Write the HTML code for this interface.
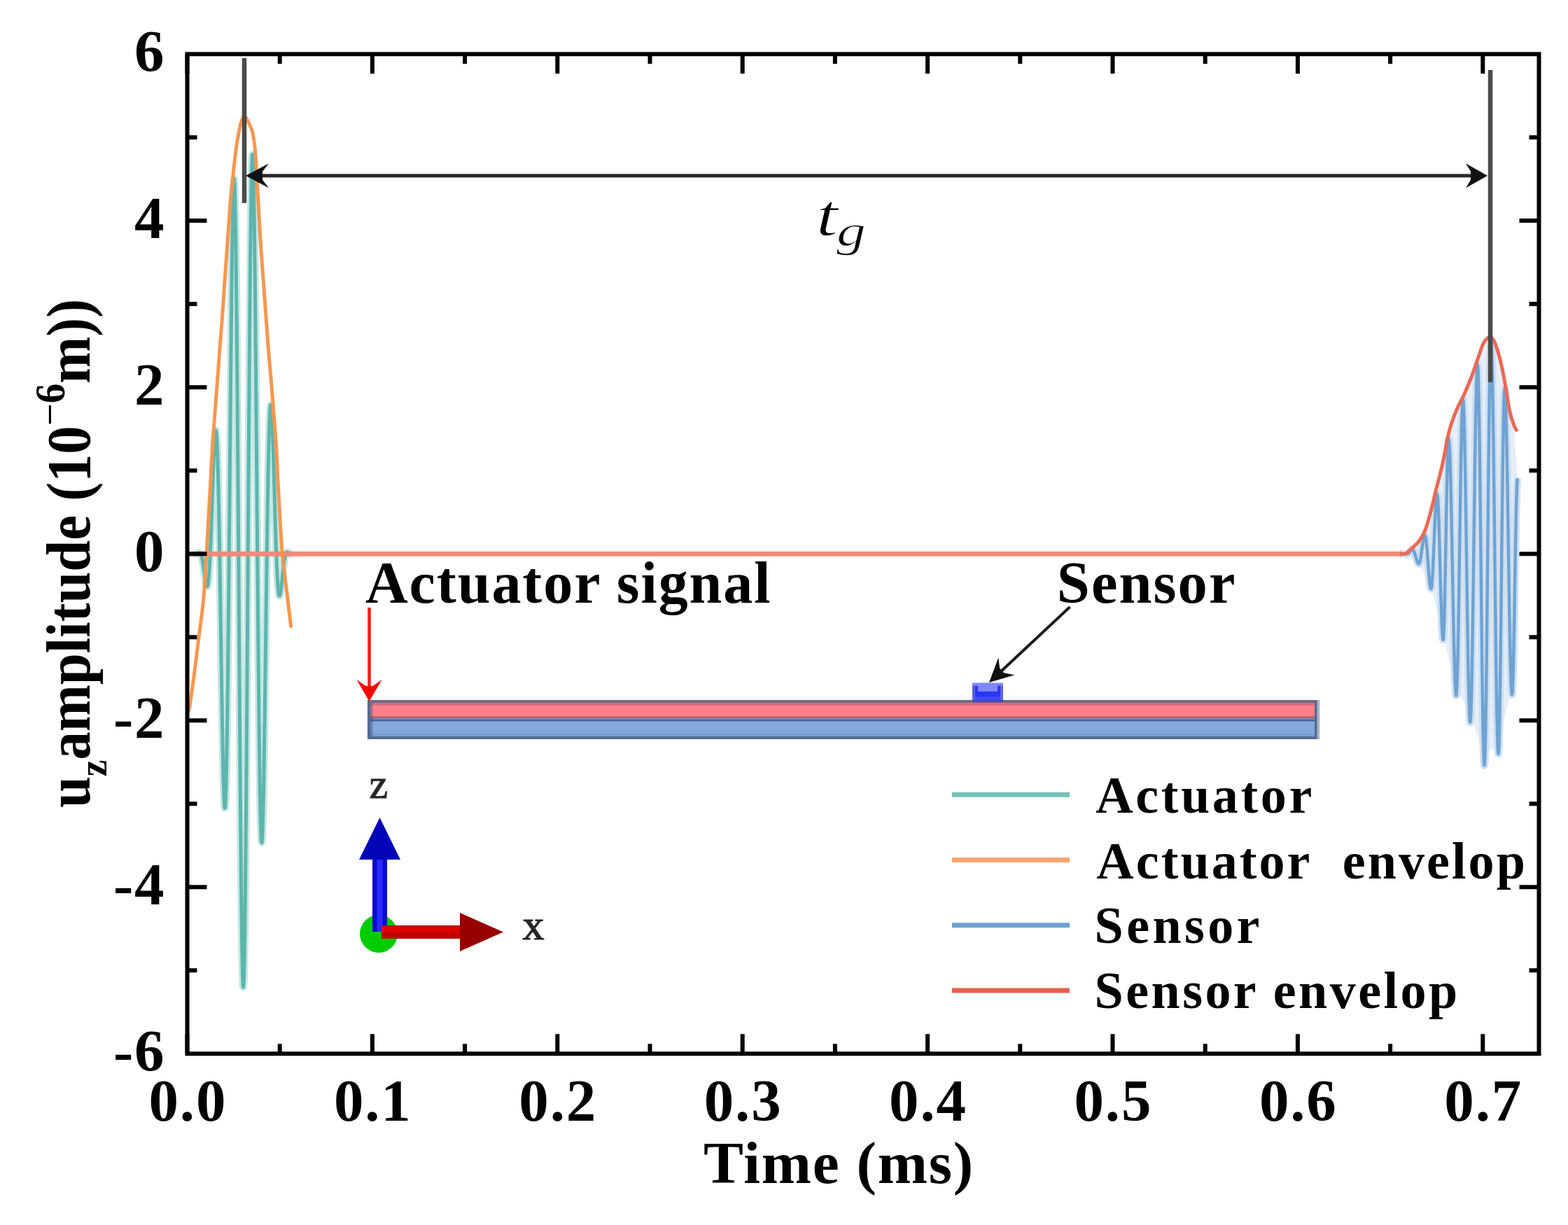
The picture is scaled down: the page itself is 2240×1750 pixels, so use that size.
<!DOCTYPE html>
<html><head><meta charset="utf-8"><title>Actuator and sensor signals</title>
<style>html,body{margin:0;padding:0;background:#fff;width:2240px;height:1750px;overflow:hidden}svg{display:block;filter:blur(0.7px)}</style>
</head><body>
<svg width="2240" height="1750" viewBox="0 0 2240 1750">
<rect width="2240" height="1750" fill="#fff"/>
<path d="M2018.1,784.2 L2026.6,775.8 L2035,761.7 L2040.6,744.8 L2046.3,723.7 L2051.9,699.8 L2057.5,678.7 L2063.1,653.4 L2068.8,623.9 L2074.4,604.2 L2082.8,583.1 L2091.3,566.2 L2102.7,539 L2111.1,514.8 L2118.5,493.7 L2124,486 L2129,483.1 L2133,487 L2136.4,493.7 L2142.8,514.8 L2147.5,535.9 L2152.2,562.2 L2156.5,588.6 L2162.8,609.7 L2168,684.2 L2160,982.35 L2140.5,1062.62 L2120.5,1078.45 L2100.2,1019.66 L2080.3,983.48 L2061.6,907.74 L2044.4,838.78 L2026.9,804.87 L2015,791.3 Z" fill="#e6eff8"/>
<path d="M2000,791.3 L2010.5,791.24 L2011,791.07 L2011.5,790.8 L2012,790.43 L2012.5,789.98 L2013,789.46 L2013.5,788.91 L2014,788.32 L2014.5,787.74 L2015,787.19 L2015.5,786.67 L2016,786.22 L2016.5,785.85 L2017,785.58 L2017.5,785.41 L2018,785.35 L2018.52,785.52 L2019.05,786.03 L2019.57,786.87 L2020.09,787.99 L2020.62,789.37 L2021.14,790.96 L2021.66,792.7 L2022.19,794.53 L2022.71,796.4 L2023.24,798.23 L2023.76,799.97 L2024.28,801.56 L2024.81,802.94 L2025.33,804.06 L2025.85,804.9 L2026.38,805.41 L2026.9,805.58 L2027.41,805.24 L2027.92,804.21 L2028.44,802.55 L2028.95,800.3 L2029.46,797.54 L2029.97,794.37 L2030.48,790.89 L2030.99,787.22 L2031.51,783.48 L2032.02,779.81 L2032.53,776.33 L2033.04,773.16 L2033.55,770.4 L2034.06,768.15 L2034.58,766.49 L2035.09,765.46 L2035.6,765.12 L2036.12,765.77 L2036.64,767.69 L2037.15,770.82 L2037.67,775.06 L2038.19,780.25 L2038.71,786.23 L2039.22,792.78 L2039.74,799.69 L2040.26,806.71 L2040.78,813.62 L2041.29,820.17 L2041.81,826.15 L2042.33,831.34 L2042.85,835.58 L2043.36,838.71 L2043.88,840.63 L2044.4,841.28 L2044.91,840.13 L2045.41,836.7 L2045.92,831.12 L2046.42,823.58 L2046.93,814.33 L2047.44,803.68 L2047.94,792.01 L2048.45,779.71 L2048.95,767.19 L2049.46,754.89 L2049.96,743.22 L2050.47,732.57 L2050.98,723.32 L2051.48,715.78 L2051.99,710.2 L2052.49,706.77 L2053,705.62 L2053.51,707.39 L2054.01,712.65 L2054.52,721.22 L2055.02,732.8 L2055.53,747 L2056.04,763.33 L2056.54,781.25 L2057.05,800.14 L2057.55,819.35 L2058.06,838.24 L2058.56,856.16 L2059.07,872.49 L2059.58,886.69 L2060.08,898.27 L2060.59,906.84 L2061.09,912.1 L2061.6,913.87 L2062.13,910.74 L2062.65,901.47 L2063.18,886.48 L2063.71,866.42 L2064.23,842.17 L2064.76,814.79 L2065.29,785.46 L2065.81,755.49 L2066.34,726.16 L2066.87,698.78 L2067.39,674.53 L2067.92,654.47 L2068.45,639.48 L2068.97,630.21 L2069.5,627.08 L2070.01,629.13 L2070.53,635.22 L2071.04,645.23 L2071.56,658.92 L2072.07,676 L2072.59,696.08 L2073.1,718.71 L2073.61,743.39 L2074.13,769.56 L2074.64,796.64 L2075.16,824.04 L2075.67,851.12 L2076.19,877.29 L2076.7,901.97 L2077.21,924.6 L2077.73,944.68 L2078.24,961.76 L2078.76,975.45 L2079.27,985.46 L2079.79,991.55 L2080.3,993.6 L2080.81,990.72 L2081.32,982.16 L2081.83,968.14 L2082.34,949.06 L2082.85,925.43 L2083.36,897.9 L2083.87,867.22 L2084.38,834.23 L2084.89,799.82 L2085.41,764.93 L2085.92,730.52 L2086.43,697.53 L2086.94,666.85 L2087.45,639.32 L2087.96,615.69 L2088.47,596.61 L2088.98,582.59 L2089.49,574.03 L2090,571.15 L2090.51,573.98 L2091.02,582.42 L2091.53,596.25 L2092.04,615.13 L2092.55,638.59 L2093.06,666.07 L2093.57,696.88 L2094.08,730.26 L2094.59,765.39 L2095.1,801.41 L2095.61,837.44 L2096.12,872.57 L2096.63,905.95 L2097.14,936.76 L2097.65,964.24 L2098.16,987.7 L2098.67,1006.58 L2099.18,1020.41 L2099.69,1028.85 L2100.2,1031.68 L2100.7,1028.83 L2101.21,1020.34 L2101.71,1006.4 L2102.22,987.33 L2102.72,963.54 L2103.23,935.57 L2103.73,904.05 L2104.24,869.68 L2104.74,833.22 L2105.25,795.5 L2105.75,757.35 L2106.26,719.63 L2106.76,683.17 L2107.27,648.8 L2107.77,617.28 L2108.28,589.31 L2108.78,565.52 L2109.29,546.45 L2109.79,532.51 L2110.3,524.02 L2110.8,521.17 L2111.31,525.07 L2111.82,536.68 L2112.33,555.66 L2112.84,581.52 L2113.35,613.53 L2113.86,650.83 L2114.37,692.4 L2114.88,737.11 L2115.39,783.73 L2115.91,831 L2116.42,877.62 L2116.93,922.33 L2117.44,963.9 L2117.95,1001.2 L2118.46,1033.21 L2118.97,1059.07 L2119.48,1078.05 L2119.99,1089.66 L2120.5,1093.56 L2121,1089.43 L2121.5,1077.15 L2122,1057.06 L2122.5,1029.7 L2123,995.82 L2123.5,956.35 L2124,912.36 L2124.5,865.05 L2125,815.71 L2125.5,765.7 L2126,716.36 L2126.5,669.05 L2127,625.06 L2127.5,585.59 L2128,551.71 L2128.5,524.35 L2129,504.26 L2129.5,491.98 L2130,487.85 L2130.5,491.14 L2131,500.93 L2131.5,517.02 L2132,539.03 L2132.5,566.47 L2133,598.74 L2133.5,635.11 L2134,674.77 L2134.5,716.84 L2135,760.37 L2135.5,804.38 L2136,847.91 L2136.5,889.98 L2137,929.64 L2137.5,966.01 L2138,998.28 L2138.5,1025.72 L2139,1047.73 L2139.5,1063.82 L2140,1073.61 L2140.5,1076.9 L2141,1072.94 L2141.5,1061.18 L2142,1041.98 L2142.5,1015.93 L2143,983.81 L2143.5,946.6 L2144,905.42 L2144.5,861.54 L2145,816.29 L2145.5,771.04 L2146,727.16 L2146.5,685.99 L2147,648.77 L2147.5,616.65 L2148,590.6 L2148.5,571.4 L2149,559.64 L2149.5,555.68 L2150,558.12 L2150.5,565.38 L2151,577.3 L2151.5,593.62 L2152,613.97 L2152.5,637.9 L2153,664.86 L2153.5,694.27 L2154,725.45 L2154.5,757.73 L2155,790.36 L2155.5,822.64 L2156,853.82 L2156.5,883.23 L2157,910.19 L2157.5,934.12 L2158,954.47 L2158.5,970.79 L2159,982.71 L2159.5,989.97 L2160,992.41 L2160.5,989.44 L2161,980.63 L2161.5,966.34 L2162,947.1 L2162.5,923.66 L2163,896.91 L2163.5,867.89 L2164,837.71 L2164.5,807.53 L2165,778.51 L2165.5,751.76 L2166,728.32 L2166.5,709.08 L2167,694.79 L2167.5,685.98 L2168,683.01" fill="none" stroke="#cfe0f1" stroke-width="11" stroke-linejoin="round"/>
<path d="M276.5,791.3 L277,791.3 L277.5,791.3 L278,791.3 L278.5,791.3 L279,791.3 L279.5,791.3 L280,791.28 L280.5,791.21 L281,791.08 L281.5,790.89 L282,790.64 L282.5,790.36 L283,790.07 L283.5,789.8 L284,789.59 L284.5,789.48 L285,789.5 L285.5,789.71 L286,790.14 L286.5,790.84 L287,791.84 L287.5,793.17 L288,794.84 L288.5,796.88 L289,799.27 L289.5,802.01 L290,805.06 L290.5,808.38 L291,811.91 L291.5,815.59 L292,819.32 L292.5,823.02 L293,826.57 L293.5,829.85 L294,832.74 L294.5,835.12 L295,836.85 L295.5,837.81 L296,837.88 L296.5,836.95 L297,834.92 L297.5,831.7 L298,827.24 L298.5,821.5 L299,814.45 L299.5,806.12 L300,796.54 L300.5,785.78 L301,773.96 L301.5,761.19 L302,747.66 L302.5,733.55 L303,719.08 L303.5,704.51 L304,690.08 L304.5,676.1 L305,662.85 L305.5,650.63 L306,639.75 L306.5,630.5 L307,623.16 L307.5,618.02 L308,615.3 L308.5,615.23 L309,617.99 L309.5,623.71 L310,632.5 L310.5,644.38 L311,659.37 L311.5,677.38 L312,698.29 L312.5,721.94 L313,748.08 L313.5,776.41 L314,806.6 L314.5,838.25 L315,870.92 L315.5,904.13 L316,937.37 L316.5,970.11 L317,1001.81 L317.5,1031.91 L318,1059.85 L318.5,1085.1 L319,1107.15 L319.5,1125.5 L320,1139.71 L320.5,1149.4 L321,1154.22 L321.5,1153.92 L322,1148.3 L322.5,1137.25 L323,1120.74 L323.5,1098.82 L324,1071.65 L324.5,1039.47 L325,1002.58 L325.5,961.42 L326,916.45 L326.5,868.26 L327,817.46 L327.5,764.75 L328,710.88 L328.5,656.61 L329,602.75 L329.5,550.13 L330,499.55 L330.5,451.84 L331,407.75 L331.5,368.05 L332,333.42 L332.5,304.49 L333,281.81 L333.5,265.84 L334,256.95 L334.5,255.43 L335,261.42 L335.5,274.97 L336,296.02 L336.5,324.39 L337,359.77 L337.5,401.76 L338,449.84 L338.5,503.39 L339,561.7 L339.5,623.99 L340,689.38 L340.5,756.98 L341,825.81 L341.5,894.88 L342,963.19 L342.5,1029.75 L343,1093.56 L343.5,1153.68 L344,1209.21 L344.5,1259.31 L345,1303.22 L345.5,1340.27 L346,1369.88 L346.5,1391.6 L347,1405.08 L347.5,1410.1 L348,1406.56 L348.5,1394.5 L349,1374.08 L349.5,1345.58 L350,1309.42 L350.5,1266.12 L351,1216.31 L351.5,1160.73 L352,1100.18 L352.5,1035.56 L353,967.81 L353.5,897.92 L354,826.9 L354.5,755.8 L355,685.64 L355.5,617.41 L356,552.11 L356.5,490.63 L357,433.85 L357.5,382.54 L358,337.39 L358.5,298.99 L359,267.82 L359.5,244.25 L360,228.54 L360.5,220.8 L361,221.05 L361.5,229.18 L362,244.95 L362.5,268.01 L363,297.93 L363.5,334.14 L364,376.02 L364.5,422.86 L365,473.89 L365.5,528.28 L366,585.18 L366.5,643.7 L367,702.96 L367.5,762.07 L368,820.18 L368.5,876.45 L369,930.11 L369.5,980.44 L370,1026.78 L370.5,1068.56 L371,1105.28 L371.5,1136.54 L372,1162.03 L372.5,1181.56 L373,1195 L373.5,1202.35 L374,1203.68 L374.5,1199.19 L375,1189.11 L375.5,1173.81 L376,1153.68 L376.5,1129.21 L377,1100.91 L377.5,1069.37 L378,1035.18 L378.5,998.96 L379,961.34 L379.5,922.96 L380,884.43 L380.5,846.35 L381,809.29 L381.5,773.76 L382,740.25 L382.5,709.18 L383,680.91 L383.5,655.76 L384,633.95 L384.5,615.65 L385,600.98 L385.5,589.97 L386,582.58 L386.5,578.75 L387,578.31 L387.5,581.09 L388,586.84 L388.5,595.28 L389,606.11 L389.5,618.99 L390,633.57 L390.5,649.5 L391,666.41 L391.5,683.94 L392,701.75 L392.5,719.52 L393,736.92 L393.5,753.69 L394,769.58 L394.5,784.37 L395,797.89 L395.5,809.99 L396,820.57 L396.5,829.58 L397,836.97 L397.5,842.76 L398,846.99 L398.5,849.73 L399,851.07 L399.5,851.12 L400,850.03 L400.5,847.93 L401,844.99 L401.5,841.37 L402,837.22 L402.5,832.7 L403,827.97 L403.5,823.16 L404,818.4 L404.5,813.81 L405,809.48 L405.5,805.48 L406,801.89 L406.5,798.73 L407,796.03 L407.5,793.8 L408,792.02 L408.5,790.68 L409,789.74 L409.5,789.15 L410,788.86 L410.5,788.83 L411,788.98 L411.5,789.26 L412,789.62 L412.5,790.01 L413,790.39 L413.5,790.73 L414,790.99 L414.5,791.18 L415,791.27 L415.5,791.3 L416,791.3 L416.5,791.3 L417,791.3 L417.5,791.3 L418,791.3 L418.5,791.3" fill="none" stroke="#c6e8e5" stroke-width="11" stroke-linejoin="round"/>
<path d="M2000,791.3 L2010.5,791.24 L2011,791.07 L2011.5,790.8 L2012,790.43 L2012.5,789.98 L2013,789.46 L2013.5,788.91 L2014,788.32 L2014.5,787.74 L2015,787.19 L2015.5,786.67 L2016,786.22 L2016.5,785.85 L2017,785.58 L2017.5,785.41 L2018,785.35 L2018.52,785.52 L2019.05,786.03 L2019.57,786.87 L2020.09,787.99 L2020.62,789.37 L2021.14,790.96 L2021.66,792.7 L2022.19,794.53 L2022.71,796.4 L2023.24,798.23 L2023.76,799.97 L2024.28,801.56 L2024.81,802.94 L2025.33,804.06 L2025.85,804.9 L2026.38,805.41 L2026.9,805.58 L2027.41,805.24 L2027.92,804.21 L2028.44,802.55 L2028.95,800.3 L2029.46,797.54 L2029.97,794.37 L2030.48,790.89 L2030.99,787.22 L2031.51,783.48 L2032.02,779.81 L2032.53,776.33 L2033.04,773.16 L2033.55,770.4 L2034.06,768.15 L2034.58,766.49 L2035.09,765.46 L2035.6,765.12 L2036.12,765.77 L2036.64,767.69 L2037.15,770.82 L2037.67,775.06 L2038.19,780.25 L2038.71,786.23 L2039.22,792.78 L2039.74,799.69 L2040.26,806.71 L2040.78,813.62 L2041.29,820.17 L2041.81,826.15 L2042.33,831.34 L2042.85,835.58 L2043.36,838.71 L2043.88,840.63 L2044.4,841.28 L2044.91,840.13 L2045.41,836.7 L2045.92,831.12 L2046.42,823.58 L2046.93,814.33 L2047.44,803.68 L2047.94,792.01 L2048.45,779.71 L2048.95,767.19 L2049.46,754.89 L2049.96,743.22 L2050.47,732.57 L2050.98,723.32 L2051.48,715.78 L2051.99,710.2 L2052.49,706.77 L2053,705.62 L2053.51,707.39 L2054.01,712.65 L2054.52,721.22 L2055.02,732.8 L2055.53,747 L2056.04,763.33 L2056.54,781.25 L2057.05,800.14 L2057.55,819.35 L2058.06,838.24 L2058.56,856.16 L2059.07,872.49 L2059.58,886.69 L2060.08,898.27 L2060.59,906.84 L2061.09,912.1 L2061.6,913.87 L2062.13,910.74 L2062.65,901.47 L2063.18,886.48 L2063.71,866.42 L2064.23,842.17 L2064.76,814.79 L2065.29,785.46 L2065.81,755.49 L2066.34,726.16 L2066.87,698.78 L2067.39,674.53 L2067.92,654.47 L2068.45,639.48 L2068.97,630.21 L2069.5,627.08 L2070.01,629.13 L2070.53,635.22 L2071.04,645.23 L2071.56,658.92 L2072.07,676 L2072.59,696.08 L2073.1,718.71 L2073.61,743.39 L2074.13,769.56 L2074.64,796.64 L2075.16,824.04 L2075.67,851.12 L2076.19,877.29 L2076.7,901.97 L2077.21,924.6 L2077.73,944.68 L2078.24,961.76 L2078.76,975.45 L2079.27,985.46 L2079.79,991.55 L2080.3,993.6 L2080.81,990.72 L2081.32,982.16 L2081.83,968.14 L2082.34,949.06 L2082.85,925.43 L2083.36,897.9 L2083.87,867.22 L2084.38,834.23 L2084.89,799.82 L2085.41,764.93 L2085.92,730.52 L2086.43,697.53 L2086.94,666.85 L2087.45,639.32 L2087.96,615.69 L2088.47,596.61 L2088.98,582.59 L2089.49,574.03 L2090,571.15 L2090.51,573.98 L2091.02,582.42 L2091.53,596.25 L2092.04,615.13 L2092.55,638.59 L2093.06,666.07 L2093.57,696.88 L2094.08,730.26 L2094.59,765.39 L2095.1,801.41 L2095.61,837.44 L2096.12,872.57 L2096.63,905.95 L2097.14,936.76 L2097.65,964.24 L2098.16,987.7 L2098.67,1006.58 L2099.18,1020.41 L2099.69,1028.85 L2100.2,1031.68 L2100.7,1028.83 L2101.21,1020.34 L2101.71,1006.4 L2102.22,987.33 L2102.72,963.54 L2103.23,935.57 L2103.73,904.05 L2104.24,869.68 L2104.74,833.22 L2105.25,795.5 L2105.75,757.35 L2106.26,719.63 L2106.76,683.17 L2107.27,648.8 L2107.77,617.28 L2108.28,589.31 L2108.78,565.52 L2109.29,546.45 L2109.79,532.51 L2110.3,524.02 L2110.8,521.17 L2111.31,525.07 L2111.82,536.68 L2112.33,555.66 L2112.84,581.52 L2113.35,613.53 L2113.86,650.83 L2114.37,692.4 L2114.88,737.11 L2115.39,783.73 L2115.91,831 L2116.42,877.62 L2116.93,922.33 L2117.44,963.9 L2117.95,1001.2 L2118.46,1033.21 L2118.97,1059.07 L2119.48,1078.05 L2119.99,1089.66 L2120.5,1093.56 L2121,1089.43 L2121.5,1077.15 L2122,1057.06 L2122.5,1029.7 L2123,995.82 L2123.5,956.35 L2124,912.36 L2124.5,865.05 L2125,815.71 L2125.5,765.7 L2126,716.36 L2126.5,669.05 L2127,625.06 L2127.5,585.59 L2128,551.71 L2128.5,524.35 L2129,504.26 L2129.5,491.98 L2130,487.85 L2130.5,491.14 L2131,500.93 L2131.5,517.02 L2132,539.03 L2132.5,566.47 L2133,598.74 L2133.5,635.11 L2134,674.77 L2134.5,716.84 L2135,760.37 L2135.5,804.38 L2136,847.91 L2136.5,889.98 L2137,929.64 L2137.5,966.01 L2138,998.28 L2138.5,1025.72 L2139,1047.73 L2139.5,1063.82 L2140,1073.61 L2140.5,1076.9 L2141,1072.94 L2141.5,1061.18 L2142,1041.98 L2142.5,1015.93 L2143,983.81 L2143.5,946.6 L2144,905.42 L2144.5,861.54 L2145,816.29 L2145.5,771.04 L2146,727.16 L2146.5,685.99 L2147,648.77 L2147.5,616.65 L2148,590.6 L2148.5,571.4 L2149,559.64 L2149.5,555.68 L2150,558.12 L2150.5,565.38 L2151,577.3 L2151.5,593.62 L2152,613.97 L2152.5,637.9 L2153,664.86 L2153.5,694.27 L2154,725.45 L2154.5,757.73 L2155,790.36 L2155.5,822.64 L2156,853.82 L2156.5,883.23 L2157,910.19 L2157.5,934.12 L2158,954.47 L2158.5,970.79 L2159,982.71 L2159.5,989.97 L2160,992.41 L2160.5,989.44 L2161,980.63 L2161.5,966.34 L2162,947.1 L2162.5,923.66 L2163,896.91 L2163.5,867.89 L2164,837.71 L2164.5,807.53 L2165,778.51 L2165.5,751.76 L2166,728.32 L2166.5,709.08 L2167,694.79 L2167.5,685.98 L2168,683.01" fill="none" stroke="#6fa3d3" stroke-width="4.5" stroke-linejoin="round"/>
<path d="M276.5,791.3 L277,791.3 L277.5,791.3 L278,791.3 L278.5,791.3 L279,791.3 L279.5,791.3 L280,791.28 L280.5,791.21 L281,791.08 L281.5,790.89 L282,790.64 L282.5,790.36 L283,790.07 L283.5,789.8 L284,789.59 L284.5,789.48 L285,789.5 L285.5,789.71 L286,790.14 L286.5,790.84 L287,791.84 L287.5,793.17 L288,794.84 L288.5,796.88 L289,799.27 L289.5,802.01 L290,805.06 L290.5,808.38 L291,811.91 L291.5,815.59 L292,819.32 L292.5,823.02 L293,826.57 L293.5,829.85 L294,832.74 L294.5,835.12 L295,836.85 L295.5,837.81 L296,837.88 L296.5,836.95 L297,834.92 L297.5,831.7 L298,827.24 L298.5,821.5 L299,814.45 L299.5,806.12 L300,796.54 L300.5,785.78 L301,773.96 L301.5,761.19 L302,747.66 L302.5,733.55 L303,719.08 L303.5,704.51 L304,690.08 L304.5,676.1 L305,662.85 L305.5,650.63 L306,639.75 L306.5,630.5 L307,623.16 L307.5,618.02 L308,615.3 L308.5,615.23 L309,617.99 L309.5,623.71 L310,632.5 L310.5,644.38 L311,659.37 L311.5,677.38 L312,698.29 L312.5,721.94 L313,748.08 L313.5,776.41 L314,806.6 L314.5,838.25 L315,870.92 L315.5,904.13 L316,937.37 L316.5,970.11 L317,1001.81 L317.5,1031.91 L318,1059.85 L318.5,1085.1 L319,1107.15 L319.5,1125.5 L320,1139.71 L320.5,1149.4 L321,1154.22 L321.5,1153.92 L322,1148.3 L322.5,1137.25 L323,1120.74 L323.5,1098.82 L324,1071.65 L324.5,1039.47 L325,1002.58 L325.5,961.42 L326,916.45 L326.5,868.26 L327,817.46 L327.5,764.75 L328,710.88 L328.5,656.61 L329,602.75 L329.5,550.13 L330,499.55 L330.5,451.84 L331,407.75 L331.5,368.05 L332,333.42 L332.5,304.49 L333,281.81 L333.5,265.84 L334,256.95 L334.5,255.43 L335,261.42 L335.5,274.97 L336,296.02 L336.5,324.39 L337,359.77 L337.5,401.76 L338,449.84 L338.5,503.39 L339,561.7 L339.5,623.99 L340,689.38 L340.5,756.98 L341,825.81 L341.5,894.88 L342,963.19 L342.5,1029.75 L343,1093.56 L343.5,1153.68 L344,1209.21 L344.5,1259.31 L345,1303.22 L345.5,1340.27 L346,1369.88 L346.5,1391.6 L347,1405.08 L347.5,1410.1 L348,1406.56 L348.5,1394.5 L349,1374.08 L349.5,1345.58 L350,1309.42 L350.5,1266.12 L351,1216.31 L351.5,1160.73 L352,1100.18 L352.5,1035.56 L353,967.81 L353.5,897.92 L354,826.9 L354.5,755.8 L355,685.64 L355.5,617.41 L356,552.11 L356.5,490.63 L357,433.85 L357.5,382.54 L358,337.39 L358.5,298.99 L359,267.82 L359.5,244.25 L360,228.54 L360.5,220.8 L361,221.05 L361.5,229.18 L362,244.95 L362.5,268.01 L363,297.93 L363.5,334.14 L364,376.02 L364.5,422.86 L365,473.89 L365.5,528.28 L366,585.18 L366.5,643.7 L367,702.96 L367.5,762.07 L368,820.18 L368.5,876.45 L369,930.11 L369.5,980.44 L370,1026.78 L370.5,1068.56 L371,1105.28 L371.5,1136.54 L372,1162.03 L372.5,1181.56 L373,1195 L373.5,1202.35 L374,1203.68 L374.5,1199.19 L375,1189.11 L375.5,1173.81 L376,1153.68 L376.5,1129.21 L377,1100.91 L377.5,1069.37 L378,1035.18 L378.5,998.96 L379,961.34 L379.5,922.96 L380,884.43 L380.5,846.35 L381,809.29 L381.5,773.76 L382,740.25 L382.5,709.18 L383,680.91 L383.5,655.76 L384,633.95 L384.5,615.65 L385,600.98 L385.5,589.97 L386,582.58 L386.5,578.75 L387,578.31 L387.5,581.09 L388,586.84 L388.5,595.28 L389,606.11 L389.5,618.99 L390,633.57 L390.5,649.5 L391,666.41 L391.5,683.94 L392,701.75 L392.5,719.52 L393,736.92 L393.5,753.69 L394,769.58 L394.5,784.37 L395,797.89 L395.5,809.99 L396,820.57 L396.5,829.58 L397,836.97 L397.5,842.76 L398,846.99 L398.5,849.73 L399,851.07 L399.5,851.12 L400,850.03 L400.5,847.93 L401,844.99 L401.5,841.37 L402,837.22 L402.5,832.7 L403,827.97 L403.5,823.16 L404,818.4 L404.5,813.81 L405,809.48 L405.5,805.48 L406,801.89 L406.5,798.73 L407,796.03 L407.5,793.8 L408,792.02 L408.5,790.68 L409,789.74 L409.5,789.15 L410,788.86 L410.5,788.83 L411,788.98 L411.5,789.26 L412,789.62 L412.5,790.01 L413,790.39 L413.5,790.73 L414,790.99 L414.5,791.18 L415,791.27 L415.5,791.3 L416,791.3 L416.5,791.3 L417,791.3 L417.5,791.3 L418,791.3 L418.5,791.3" fill="none" stroke="#5db5ac" stroke-width="5" stroke-linejoin="round"/>
<path d="M267.5,791.3 H2002" fill="none" stroke="#f08a7a" stroke-width="7"/>
<path d="M2000,791.3C2001.33,791.22 2004.98,792.32 2008,790.8C2011.02,789.28 2015,785.03 2018.1,782.2C2021.2,779.37 2023.78,777.55 2026.6,773.8C2029.42,770.05 2032.67,764.87 2035,759.7C2037.33,754.53 2038.72,749.13 2040.6,742.8C2042.48,736.47 2044.42,729.2 2046.3,721.7C2048.18,714.2 2050.03,705.3 2051.9,697.8C2053.77,690.3 2055.63,684.43 2057.5,676.7C2059.37,668.97 2061.22,660.53 2063.1,651.4C2064.98,642.27 2066.92,630.1 2068.8,621.9C2070.68,613.7 2072.07,609 2074.4,602.2C2076.73,595.4 2079.98,587.43 2082.8,581.1C2085.62,574.77 2087.98,571.55 2091.3,564.2C2094.62,556.85 2099.4,545.57 2102.7,537C2106,528.43 2108.47,520.35 2111.1,512.8C2113.73,505.25 2116.35,496.5 2118.5,491.7C2120.65,486.9 2122.25,485.77 2124,484C2125.75,482.23 2127.5,480.93 2129,481.1C2130.5,481.27 2131.77,483.23 2133,485C2134.23,486.77 2134.77,487.07 2136.4,491.7C2138.03,496.33 2140.95,505.77 2142.8,512.8C2144.65,519.83 2145.93,526 2147.5,533.9C2149.07,541.8 2150.7,551.42 2152.2,560.2C2153.7,568.98 2154.73,578.68 2156.5,586.6C2158.27,594.52 2160.97,602.77 2162.8,607.7C2164.63,612.63 2166.72,614.78 2167.5,616.2" fill="none" stroke="#ea6a55" stroke-width="5" stroke-linejoin="round"/>
<path d="M267.5,1018C268.02,1016.83 269.12,1018.83 270.6,1011C272.08,1003.17 274.23,987.23 276.4,971C278.57,954.77 281.22,932.77 283.6,913.6C285.98,894.43 288.8,876.43 290.7,856C292.6,835.57 293.62,813.67 295,791C296.38,768.33 297.97,738.5 299,720C300.03,701.5 300.47,693.33 301.2,680C301.93,666.67 302.43,655 303.4,640C304.37,625 305.75,606.67 307,590C308.25,573.33 309.77,555 310.9,540C312.03,525 312.78,513.33 313.8,500C314.82,486.67 315.88,475 317,460C318.12,445 319.22,428.33 320.5,410C321.78,391.67 323.28,370 324.7,350C326.12,330 327.62,306.67 329,290C330.38,273.33 331.67,262.5 333,250C334.33,237.5 335.67,225 337,215C338.33,205 339.67,197 341,190C342.33,183 343.67,177.08 345,173C346.33,168.92 347.67,165.83 349,165.5C350.33,165.17 351.67,168.75 353,171C354.33,173.25 355.67,175.83 357,179C358.33,182.17 359.75,184 361,190C362.25,196 363.55,205 364.5,215C365.45,225 365.95,237.5 366.7,250C367.45,262.5 368.03,273.33 369,290C369.97,306.67 371.18,330 372.5,350C373.82,370 375.62,392.5 376.9,410C378.18,427.5 379.1,440 380.2,455C381.3,470 382.37,485.83 383.5,500C384.63,514.17 385.75,525 387,540C388.25,555 389.72,573.33 391,590C392.28,606.67 393.77,625 394.7,640C395.63,655 395.92,666.67 396.6,680C397.28,693.33 397.68,701.5 398.8,720C399.92,738.5 401.55,770.67 403.3,791C405.05,811.33 407.22,824.4 409.3,842C411.38,859.6 414.72,887.5 415.8,896.6" fill="none" stroke="#f7974f" stroke-width="5" stroke-linejoin="round"/>
<path d="M349,83 V290 M2129,100 V546" stroke="#4a4a4a" stroke-width="6.5" fill="none"/>
<path d="M360,251 H2115" stroke="#2a2a2a" stroke-width="5" fill="none"/>
<path d="M351,251 L384,268.5 L375,257 L375,245 L384,233.5 Z" fill="#111"/>
<path d="M2125,251 L2094,233.5 L2101,245 L2101,257 L2094,268.5 Z" fill="#111"/>
<g transform="translate(1166,0) scale(1.31,1)" font-family='"Liberation Serif", "Times New Roman", serif' font-style="italic" fill="#000" stroke="#fff" stroke-width="1"><text x="0" y="335.8" font-size="84">t</text><text x="22.1" y="351.1" font-size="64">g</text></g>
<rect x="527" y="1002" width="1353" height="52" fill="#84a8dc" stroke="#556b90" stroke-width="4"/>
<rect x="529" y="1004" width="1349" height="22" fill="#ff8088"/>
<path d="M527,1002 H1880" stroke="#6f6a88" stroke-width="4"/>
<path d="M529,1025 H1878" stroke="#a46070" stroke-width="3"/><path d="M529,1029 H1878" stroke="#45689a" stroke-width="3"/>
<rect x="529" y="1004" width="1349" height="3.8" fill="#d86c7a"/>
<rect x="529" y="1047.5" width="1349" height="4.5" fill="#78a0d2"/>
<rect x="1881.5" y="1000" width="3.8" height="56" fill="#a9b5c6"/>
<rect x="529" y="1004" width="3.5" height="48" fill="#28406e" fill-opacity="0.35"/>
<rect x="1389.3" y="975.8" width="43.5" height="26" fill="#2c36f0"/>
<rect x="1389.3" y="975.8" width="43.5" height="4" fill="#7d84ff"/>
<rect x="1397" y="975.8" width="28" height="12" fill="#8088ff"/>
<rect x="1389.3" y="979.8" width="3.8" height="22" fill="#5660d8"/>
<rect x="1429" y="979.8" width="3.8" height="22" fill="#6068e0"/>
<rect x="1393" y="995" width="36" height="5" fill="#3848ff"/>
<rect x="1389.3" y="999.5" width="43.5" height="3.7" fill="#4a4ab8"/>
<path d="M527.5,868 V985" stroke="#ff1a1a" stroke-width="4.5"/>
<path d="M527.5,1002 L545.5,971 L532.5,980 L522.5,980 L509.5,971 Z" fill="#ff0000"/>
<path d="M1528.5,867 L1428,961" stroke="#1a1a1a" stroke-width="4"/>
<path d="M1413,975 L1449.46,964.25 L1434.35,961.24 L1428.22,954.66 L1426.27,939.38 Z" fill="#111"/>
<g font-family='"Liberation Serif", "Times New Roman", serif' font-weight="bold" fill="#000">
<text x="522.0" y="861.2" font-size="84.0" textLength="578.5" lengthAdjust="spacing">Actuator signal</text>
<text x="1509.8" y="860.8" font-size="84.5" textLength="254.6" lengthAdjust="spacing">Sensor</text>
</g>
<circle cx="541" cy="1334" r="27" fill="#00cc00"/>
<path d="M542.5,1331 V1226" stroke="#0a0ad0" stroke-width="21"/>
<path d="M542.5,1331 V1226" stroke="#2a2aff" stroke-width="8"/>
<path d="M513,1228 L542.5,1168 L572,1228 Z" fill="#0505b8"/>
<path d="M545,1331.5 H660" stroke="#c00000" stroke-width="19"/>
<path d="M545,1328 H660" stroke="#e00000" stroke-width="7"/>
<path d="M657,1304 L719,1331.5 L657,1359 Z" fill="#980000"/>
<g font-family='"Liberation Serif", "Times New Roman", serif' font-weight="bold" fill="#262626">
<text x="527.5" y="1139.5" font-size="60" font-weight="normal" stroke="#262626" stroke-width="0.9">z</text>
<text x="746.5" y="1342" font-size="62" font-weight="normal" stroke="#262626" stroke-width="1.2">x</text>
</g>
<path d="M1360,1135.3 H1528" stroke="#72c2b6" stroke-width="7"/>
<text x="1565.2" y="1161.3" font-size="74.0" textLength="309.1" lengthAdjust="spacing" font-family='"Liberation Serif", "Times New Roman", serif' font-weight="bold" fill="#000">Actuator</text>
<path d="M1360,1228.5 H1528" stroke="#fba36e" stroke-width="7"/>
<text x="1566.2" y="1254.5" font-size="74.0" textLength="612.6" lengthAdjust="spacing" font-family='"Liberation Serif", "Times New Roman", serif' font-weight="bold" fill="#000">Actuator  envelop</text>
<path d="M1360,1321.7 H1528" stroke="#6ca2d2" stroke-width="7"/>
<text x="1563.6" y="1347.0" font-size="74.0" textLength="235.8" lengthAdjust="spacing" font-family='"Liberation Serif", "Times New Roman", serif' font-weight="bold" fill="#000">Sensor</text>
<path d="M1360,1414.9 H1528" stroke="#e4604c" stroke-width="7"/>
<text x="1563.6" y="1439.5" font-size="74.0" textLength="518.5" lengthAdjust="spacing" font-family='"Liberation Serif", "Times New Roman", serif' font-weight="bold" fill="#000">Sensor envelop</text>
<rect x="267.5" y="77.3" width="1931" height="1428" fill="none" stroke="#000" stroke-width="6"/>
<path d="M267.5,1505.3 V1477.3 M267.5,77.3 V105.3 M399.7,1505.3 V1491.3 M399.7,77.3 V91.3 M531.9,1505.3 V1477.3 M531.9,77.3 V105.3 M664.1,1505.3 V1491.3 M664.1,77.3 V91.3 M796.3,1505.3 V1477.3 M796.3,77.3 V105.3 M928.5,1505.3 V1491.3 M928.5,77.3 V91.3 M1060.7,1505.3 V1477.3 M1060.7,77.3 V105.3 M1192.9,1505.3 V1491.3 M1192.9,77.3 V91.3 M1325.1,1505.3 V1477.3 M1325.1,77.3 V105.3 M1457.3,1505.3 V1491.3 M1457.3,77.3 V91.3 M1589.5,1505.3 V1477.3 M1589.5,77.3 V105.3 M1721.7,1505.3 V1491.3 M1721.7,77.3 V91.3 M1853.9,1505.3 V1477.3 M1853.9,77.3 V105.3 M1986.1,1505.3 V1491.3 M1986.1,77.3 V91.3 M2118.3,1505.3 V1477.3 M2118.3,77.3 V105.3 M267.5,1386.3 H281.5 M2198.5,1386.3 H2184.5 M267.5,1267.3 H295.5 M2198.5,1267.3 H2170.5 M267.5,1148.3 H281.5 M2198.5,1148.3 H2184.5 M267.5,1029.3 H295.5 M2198.5,1029.3 H2170.5 M267.5,910.3 H281.5 M2198.5,910.3 H2184.5 M267.5,791.3 H295.5 M2198.5,791.3 H2170.5 M267.5,672.3 H281.5 M2198.5,672.3 H2184.5 M267.5,553.3 H295.5 M2198.5,553.3 H2170.5 M267.5,434.3 H281.5 M2198.5,434.3 H2184.5 M267.5,315.3 H295.5 M2198.5,315.3 H2170.5 M267.5,196.3 H281.5 M2198.5,196.3 H2184.5" stroke="#000" stroke-width="6" fill="none"/>
<g font-family='"Liberation Serif", "Times New Roman", serif' font-weight="bold" font-size="85" letter-spacing="1.8" fill="#000" text-anchor="end"><text x="236.3" y="101.6">6</text><text x="236.3" y="339.6">4</text><text x="236.3" y="577.6">2</text><text x="236.3" y="815.6">0</text><text x="236.3" y="1053.6">-2</text><text x="236.3" y="1291.6">-4</text><text x="236.3" y="1529.6">-6</text></g>
<g font-family='"Liberation Serif", "Times New Roman", serif' font-weight="bold" font-size="85" letter-spacing="1.85" fill="#000" text-anchor="middle"><text x="268.4" y="1601.2">0.0</text><text x="532.8" y="1601.2">0.1</text><text x="797.2" y="1601.2">0.2</text><text x="1061.6" y="1601.2">0.3</text><text x="1326" y="1601.2">0.4</text><text x="1590.4" y="1601.2">0.5</text><text x="1854.8" y="1601.2">0.6</text><text x="2119.2" y="1601.2">0.7</text></g>
<text x="1005.0" y="1689.5" font-size="85.5" textLength="385.2" lengthAdjust="spacing" font-family='"Liberation Serif", "Times New Roman", serif' font-weight="bold" fill="#000">Time (ms)</text>
<text transform="translate(127.5,790.5) rotate(-90)" font-family='"Liberation Serif", "Times New Roman", serif' font-weight="bold" font-size="88" fill="#000" text-anchor="middle" textLength="727" lengthAdjust="spacingAndGlyphs">u<tspan font-size="58" dy="24">z</tspan><tspan dy="-24">amplitude (10</tspan><tspan font-size="62" dy="-35.5" font-weight="normal">−</tspan><tspan font-size="62">6</tspan><tspan dy="35.5">m))</tspan></text>
</svg>
</body></html>
